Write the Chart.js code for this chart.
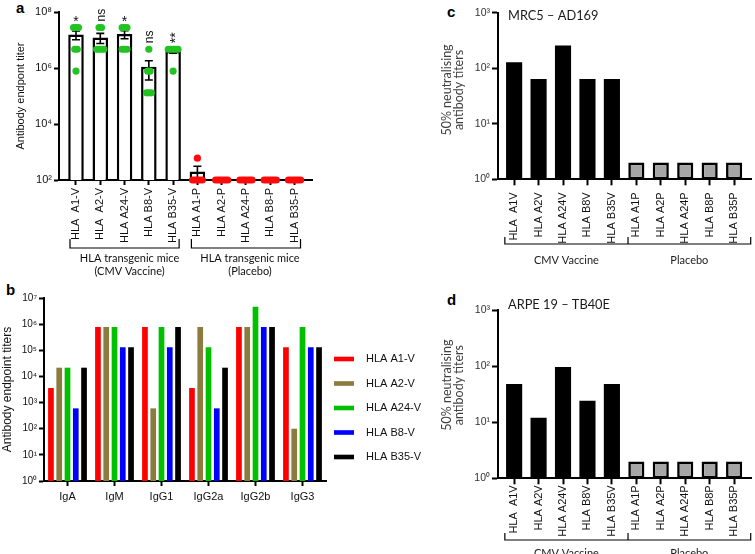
<!DOCTYPE html>
<html>
<head>
<meta charset="utf-8">
<script src="https://cdn.jsdelivr.net/npm/chart.js@4.4.0/dist/chart.umd.min.js"></script>
<style>
  body { margin: 0; background: #fff; width: 755px; height: 554px; position: relative; overflow: hidden; }
  canvas { position: absolute; }
  .tag { position: absolute; font: bold 15px 'Liberation Sans', Arial, sans-serif; line-height: 15px; color: #000; }
</style>
</head>
<body>
<div class="tag" style="left:16px;top:0px">a</div>
<div class="tag" style="left:6px;top:282px">b</div>
<div class="tag" style="left:447px;top:4px">c</div>
<div class="tag" style="left:447px;top:292px">d</div>
<canvas id="chartA" width="330" height="320" style="left:0;top:0"></canvas>
<canvas id="chartB" width="440" height="269" style="left:0;top:285px"></canvas>
<canvas id="chartC" width="365" height="290" style="left:390px;top:0"></canvas>
<canvas id="chartD" width="365" height="264" style="left:390px;top:290px"></canvas>
<script>
// ---------- panel a : endpoint titers per mouse group
const labelsA = ['HLA  A1-V', 'HLA  A2-V', 'HLA A24-V', 'HLA B8-V', 'HLA B35-V',
                 'HLA A1-P', 'HLA A2-P', 'HLA A24-P', 'HLA B8-P', 'HLA B35-P'];
const meansA = [15700000, 12400000, 16300000, 1100000, 4020000, 200, 100, 100, 100, 100];
const semA = [5500000, 4900000, 5200000, 725000, 650000, 110, 0, 0, 0, 0];
const miceA = [
    [28000000, 28000000, 28000000, 4670000, 4670000, 778000],
    [28000000, 28000000, 4670000, 4670000, 4670000, 4670000],
    [28000000, 28000000, 28000000, 4670000, 4670000, 4670000],
    [4670000, 778000, 778000, 130000, 130000, 130000],
    [4670000, 4670000, 4670000, 4670000, 4670000, 778000],
    [600, 100, 100, 100, 100, 100],
    [100, 100, 100, 100, 100, 100],
    [100, 100, 100, 100, 100, 100],
    [100, 100, 100, 100, 100, 100],
    [100, 100, 100, 100, 100, 100]
];
const sigA = ['*', 'ns', '*', 'ns', '**', '', '', '', '', ''];
const ticksA = [1e2, 1e4, 1e6, 1e8];

// ---------- panel b : isotype titers
const isotypesB = ['IgA', 'IgM', 'IgG1', 'IgG2a', 'IgG2b', 'IgG3'];
const seriesB = ['HLA A1-V', 'HLA A2-V', 'HLA A24-V', 'HLA B8-V', 'HLA B35-V'];
const a1vB = [3600, 777600, 777600, 3600, 777600, 129600];
const a2vB = [21600, 777600, 600, 777600, 777600, 100];
const a24vB = [21600, 777600, 777600, 129600, 4665600, 777600];
const b8vB = [600, 129600, 129600, 600, 777600, 129600];
const b35vB = [21600, 129600, 777600, 21600, 777600, 129600];
const ticksB = [1, 10, 100, 1e3, 1e4, 1e5, 1e6, 1e7];

// ---------- panels c, d : neutralising titers
const labelsN = ['HLA  A1V', 'HLA A2V', 'HLA A24V', 'HLA B8V', 'HLA B35V',
                 'HLA A1P', 'HLA A2P', 'HLA A24P', 'HLA B8P', 'HLA B35P'];
const mrc5 = [128, 64, 256, 64, 64, 2, 2, 2, 2, 2];
const arpe19 = [48, 12, 96, 24, 48, 2, 2, 2, 2, 2];
const ticksN = [1, 10, 100, 1000];

const SANS = "'Liberation Sans', Arial, sans-serif";
const HUM = "Lato, 'Open Sans', sans-serif";
const sup = { '0': '⁰', '1': '¹', '2': '²', '3': '³', '4': '⁴', '5': '⁵', '6': '⁶', '7': '⁷', '8': '⁸', '9': '⁹' };
function pow10(v) {
    return '10' + sup[Math.round(Math.log10(v))];
}

// spread identical values sideways so the dots don't sit on top of each other
function swarm(groups, from, to, step) {
    const out = [];
    groups.forEach(function (vals, i) {
        if (i < from || i > to) return;
        const counts = {}, seen = {};
        vals.forEach(v => counts[v] = (counts[v] || 0) + 1);
        vals.forEach(function (v) {
            const k = seen[v] = (seen[v] || 0) + 1;
            out.push({ x: i + (k - 1 - (counts[v] - 1) / 2) * step, y: v });
        });
    });
    return out;
}

function axisLine() {
    return { drawOnChartArea: false, drawTicks: true, tickLength: 5, tickWidth: 2, color: '#000' };
}

const errorBarsA = {
    id: 'errorBarsA',
    afterDatasetDraw(chart, args) {
        if (args.index !== 0) return;
        const { ctx, scales: { x, y } } = chart;
        ctx.save();
        ctx.strokeStyle = '#000';
        ctx.lineWidth = 1.6;
        meansA.forEach(function (m, i) {
            if (!semA[i]) return;
            const px = x.getPixelForValue(i);
            const top = y.getPixelForValue(m + semA[i]);
            const bot = y.getPixelForValue(Math.max(m - semA[i], y.min));
            ctx.beginPath();
            ctx.moveTo(px, top); ctx.lineTo(px, bot);
            ctx.moveTo(px - 4, top); ctx.lineTo(px + 4, top);
            ctx.moveTo(px - 4, bot); ctx.lineTo(px + 4, bot);
            ctx.stroke();
        });
        ctx.restore();
    }
};

const notesA = {
    id: 'notesA',
    afterDraw(chart) {
        const { ctx, scales: { x, y } } = chart;
        ctx.save();
        ctx.fillStyle = '#111';
        sigA.forEach(function (s, i) {
            if (!s) return;
            const px = x.getPixelForValue(i);
            const top = y.getPixelForValue(Math.max.apply(null, miceA[i]));
            if (s === '*') {
                ctx.font = '14px ' + SANS;
                ctx.textAlign = 'center';
                ctx.textBaseline = 'alphabetic';
                ctx.fillText(s, px, top - 1);
            } else {
                ctx.save();
                ctx.translate(px, top - 6);
                ctx.rotate(-Math.PI / 2);
                ctx.font = (s === 'ns' ? '12px ' : '14px ') + SANS;
                ctx.textAlign = 'left';
                ctx.textBaseline = 'middle';
                ctx.fillText(s, 0, s === 'ns' ? 1 : 3);
                ctx.restore();
            }
        });
        // group brackets under the tick labels
        ctx.strokeStyle = '#000';
        ctx.lineWidth = 1.2;
        [[0, 4], [5, 9]].forEach(function (g) {
            const l = x.getPixelForValue(g[0]) - 6, r = x.getPixelForValue(g[1]) + 6;
            ctx.beginPath();
            ctx.moveTo(l, 239); ctx.lineTo(l, 248); ctx.lineTo(r, 248); ctx.lineTo(r, 239);
            ctx.stroke();
        });
        ctx.font = '11px ' + HUM;
        ctx.textAlign = 'center';
        ctx.textBaseline = 'middle';
        const c1 = x.getPixelForValue(2) + 5, c2 = x.getPixelForValue(7) + 4;
        ctx.fillText('HLA transgenic mice', c1, 258);
        ctx.fillText('(CMV Vaccine)', c1, 271);
        ctx.fillText('HLA transgenic mice', c2, 258);
        ctx.fillText('(Placebo)', c2, 271);
        ctx.restore();
    }
};

new Chart(document.getElementById('chartA'), {
    type: 'bar',
    data: {
        datasets: [{
            type: 'bar',
            data: meansA.map((v, i) => ({ x: i, y: v })),
            backgroundColor: '#fff',
            borderColor: '#000',
            borderWidth: 2.5,
            barPercentage: 0.64,
            categoryPercentage: 1,
            order: 3
        }, {
            type: 'scatter',
            data: swarm(miceA, 0, 4, 0.1),
            backgroundColor: '#22c322',
            borderWidth: 0,
            pointRadius: 3.6,
            clip: false,
            order: 1
        }, {
            type: 'scatter',
            data: swarm(miceA, 5, 9, 0.1),
            backgroundColor: '#ff0a0a',
            borderWidth: 0,
            pointRadius: 3.6,
            clip: false,
            order: 2
        }]
    },
    options: {
        responsive: false,
        animation: false,
        layout: { padding: { top: 12, right: 18, left: 0, bottom: 0 } },
        plugins: { legend: { display: false }, tooltip: { enabled: false } },
        scales: {
            x: {
                type: 'linear',
                min: -0.7,
                max: 9.72,
                offset: false,
                afterBuildTicks: s => { s.ticks = labelsA.map((l, i) => ({ value: i })); },
                afterFit: s => { s.height = 140; },
                ticks: {
                    callback: (v, i) => labelsA[i],
                    autoSkip: false, minRotation: 90, maxRotation: 90, padding: 3,
                    color: '#111', font: { family: SANS, size: 11 }
                },
                grid: Object.assign(axisLine(), { offset: false }),
                border: { color: '#000', width: 2 }
            },
            y: {
                type: 'logarithmic',
                min: 100,
                max: 1e8,
                afterBuildTicks: s => { s.ticks = ticksA.map(v => ({ value: v })); },
                afterFit: s => { s.width = 59; },
                ticks: { callback: v => pow10(v), padding: 2, color: '#111', font: { family: SANS, size: 11 } },
                grid: axisLine(),
                border: { color: '#000', width: 2 },
                title: { display: true, text: 'Antibody endpont titer', padding: { top: 14 }, color: '#111', font: { family: SANS, size: 11 } }
            }
        }
    },
    plugins: [errorBarsA, notesA]
});

// ---------- panel b
const legendB = {
    id: 'legendB',
    afterDraw(chart) {
        const ctx = chart.ctx;
        ctx.save();
        ctx.font = '11px ' + SANS;
        ctx.textBaseline = 'middle';
        chart.data.datasets.forEach(function (ds, i) {
            const yy = 74 + i * 24.5;
            ctx.fillStyle = ds.backgroundColor;
            ctx.fillRect(334, yy - 2.3, 20, 4.6);
            ctx.fillStyle = '#111';
            ctx.fillText(ds.label, 366, yy);
        });
        ctx.restore();
    }
};

const colsB = ['#ff0000', '#8c7b3e', '#00c000', '#0000ff', '#000000'];
new Chart(document.getElementById('chartB'), {
    type: 'bar',
    data: {
        labels: isotypesB,
        datasets: [a1vB, a2vB, a24vB, b8vB, b35vB].map((d, i) => ({
            label: seriesB[i],
            data: d,
            backgroundColor: colsB[i],
            borderWidth: 0,
            categoryPercentage: 0.88,
            barPercentage: 0.69
        }))
    },
    options: {
        responsive: false,
        animation: false,
        layout: { padding: { top: 13, right: 114, left: 0, bottom: 0 } },
        plugins: { legend: { display: false }, tooltip: { enabled: false } },
        scales: {
            x: {
                afterFit: s => { s.height = 73; },
                ticks: { padding: 4, color: '#111', font: { family: SANS, size: 11 } },
                grid: Object.assign(axisLine(), { offset: false }),
                border: { color: '#000', width: 2 }
            },
            y: {
                type: 'logarithmic',
                min: 1,
                max: 1e7,
                afterBuildTicks: s => { s.ticks = ticksB.map(v => ({ value: v })); },
                afterFit: s => { s.width = 44; },
                ticks: { callback: v => pow10(v), padding: 2, color: '#111', font: { family: SANS, size: 10 } },
                grid: axisLine(),
                border: { color: '#000', width: 2 },
                title: { display: true, text: 'Antibody endpoint titers', padding: { top: 0 }, color: '#111', font: { family: SANS, size: 12 } }
            }
        }
    },
    plugins: [legendB]
});

// ---------- panels c and d
function neutChart(id, values, title, o) {
    const notes = {
        id: 'notes' + id,
        afterDraw(chart) {
            const { ctx, chartArea, scales: { x } } = chart;
            ctx.save();
            ctx.textBaseline = 'middle';
            ctx.fillStyle = '#1a1a1a';
            ctx.font = '12.8px ' + HUM;
            ctx.textAlign = 'left';
            ctx.fillText(title, chartArea.left + 10, o.titleY);

            ctx.fillStyle = '#404040';
            ctx.font = '12.5px ' + HUM;
            ctx.textAlign = 'center';
            const cy = (chartArea.top + chartArea.bottom) / 2 - o.yShift;
            [['50% neutralising', 57], ['antibody titers', 68.5]].forEach(function (t) {
                ctx.save();
                ctx.translate(t[1], cy);
                ctx.rotate(-Math.PI / 2);
                ctx.fillText(t[0], 0, 0);
                ctx.restore();
            });

            const l = x.getPixelForValue(-0.38), m = x.getPixelForValue(4.66), r = x.right - 1;
            const by = o.bracketY;
            ctx.strokeStyle = '#000';
            ctx.lineWidth = 1.2;
            ctx.beginPath();
            ctx.moveTo(l, by - 7); ctx.lineTo(l, by); ctx.lineTo(r, by); ctx.lineTo(r, by - 7);
            ctx.moveTo(m, by); ctx.lineTo(m, by - 7);
            ctx.stroke();
            ctx.fillStyle = '#1a1a1a';
            ctx.font = '11px ' + HUM;
            ctx.fillText('CMV Vaccine', (l + m) / 2, by + o.textGap);
            ctx.fillText('Placebo', (m + r) / 2, by + o.textGap);
            ctx.restore();
        }
    };
    return new Chart(document.getElementById(id), {
        type: 'bar',
        data: {
            datasets: [{
                data: values.map((v, i) => ({ x: i, y: v })),
                backgroundColor: values.map((v, i) => i < 5 ? '#000' : '#a6a6a6'),
                borderColor: '#000',
                borderWidth: values.map((v, i) => i < 5 ? 0 : 2.6),
                borderSkipped: false,
                barPercentage: 0.66,
                categoryPercentage: 1
            }]
        },
        options: {
            responsive: false,
            animation: false,
            layout: { padding: { top: o.top, right: 3.3, left: 0, bottom: 0 } },
            plugins: { legend: { display: false }, tooltip: { enabled: false } },
            scales: {
                x: {
                    type: 'linear',
                    min: -0.66,
                    max: 9.72,
                    offset: false,
                    afterBuildTicks: s => { s.ticks = labelsN.map((l, i) => ({ value: i })); },
                    afterFit: s => { s.height = o.axisH; },
                    ticks: {
                        callback: (v, i) => labelsN[i],
                        autoSkip: false, minRotation: 90, maxRotation: 90, padding: o.labelPad,
                        color: '#111', font: { family: SANS, size: 11 }
                    },
                    grid: Object.assign(axisLine(), { offset: false, tickLength: 6 }),
                    border: { color: '#000', width: 2 }
                },
                y: {
                    type: 'logarithmic',
                    min: 1,
                    max: 1000,
                    afterBuildTicks: s => { s.ticks = ticksN.map(v => ({ value: v })); },
                    afterFit: s => { s.width = 108; },
                    ticks: { callback: v => pow10(v), padding: 2, color: '#333', font: { family: SANS, size: 10.5 } },
                    grid: Object.assign(axisLine(), { tickLength: 6 }),
                    border: { color: '#000', width: 2 }
                }
            }
        },
        plugins: [notes]
    });
}

neutChart('chartC', mrc5, 'MRC5 – AD169', { top: 12.7, axisH: 110.7, labelPad: 7, titleY: 16, yShift: 6, bracketY: 244, textGap: 16 });
neutChart('chartD', arpe19, 'ARPE 19 – TB40E', { top: 20, axisH: 75.7, labelPad: 1, titleY: 15, yShift: 9, bracketY: 250, textGap: 13 });
</script>
</body>
</html>
